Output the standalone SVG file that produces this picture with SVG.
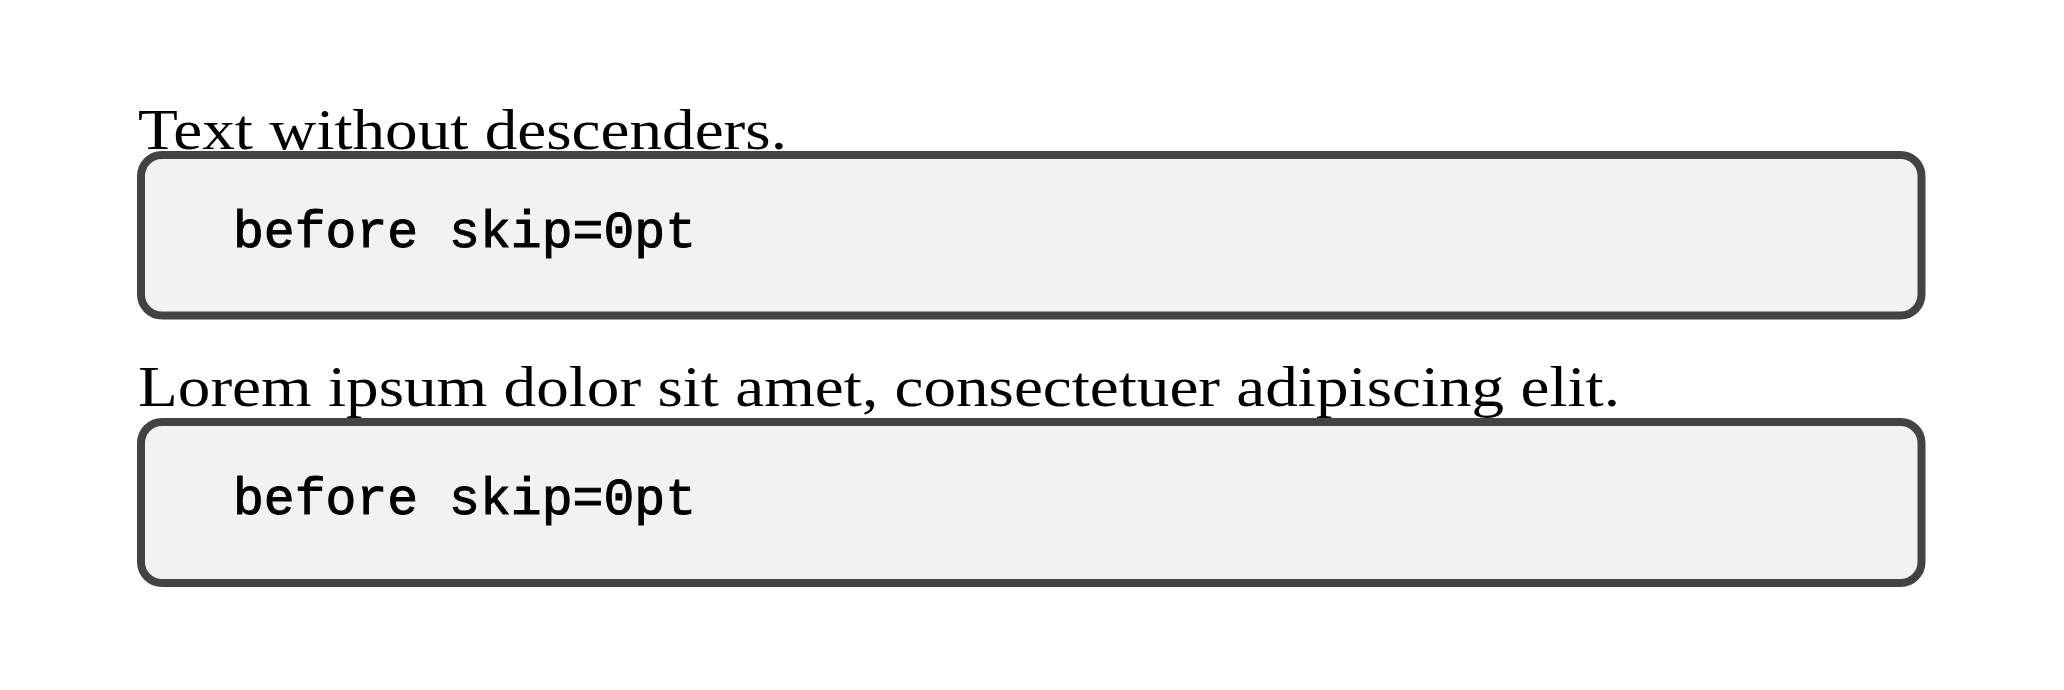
<svg xmlns="http://www.w3.org/2000/svg" width="2064" height="690" viewBox="0 0 2064 690">
  <style>
    .para { font-family: "Liberation Serif", "Times New Roman", serif; font-size: 58px; fill: #000; }
    .box { fill: #f2f2f2; stroke: #434343; stroke-width: 8; }
    .code { font-family: "Liberation Mono", "DejaVu Sans Mono", monospace; font-size: 52px; font-weight: normal; fill: #000; stroke: #000; stroke-width: 1; }
  </style>
  <rect width="2064" height="690" fill="#ffffff"/>
  <g id="para1">
    <text class="para" x="138" y="149" textLength="649" lengthAdjust="spacingAndGlyphs">Text without descenders.</text>
  </g>
  <g id="box1">
    <rect class="box" x="141" y="155" width="1780.5" height="160.5" rx="21" ry="21"/>
    <text class="code" x="233" y="247" textLength="463" lengthAdjust="spacingAndGlyphs">before skip=0pt</text>
  </g>
  <g id="para2">
    <text class="para" x="138" y="406" textLength="1482" lengthAdjust="spacingAndGlyphs">Lorem ipsum dolor sit amet, consectetuer adipiscing elit.</text>
  </g>
  <g id="box2">
    <rect class="box" x="141" y="422" width="1780.5" height="161" rx="21" ry="21"/>
    <text class="code" x="233" y="514" textLength="463" lengthAdjust="spacingAndGlyphs">before skip=0pt</text>
  </g>
  <g id="connectors"></g>
</svg>
